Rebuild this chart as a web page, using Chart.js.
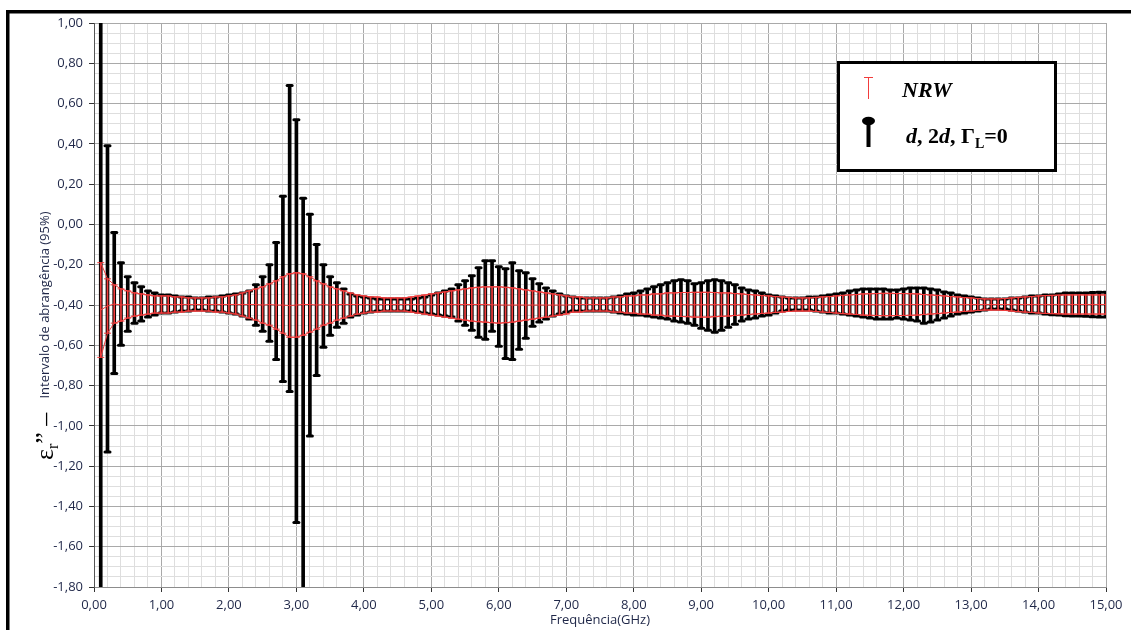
<!DOCTYPE html>
<html><head><meta charset="utf-8">
<script src="https://cdn.jsdelivr.net/npm/chart.js@4/dist/chart.umd.min.js"></script>
<style>html,body{margin:0;padding:0;background:#fff}#wrap{width:1131px;height:630px;position:relative}</style>
</head><body><div id="wrap"><canvas id="c" width="1131" height="630"></canvas></div>
<script>
// Frequencies (GHz)
const freqs = [
 0.1,0.2,0.3,0.4,0.5,0.6,0.7,0.8,0.9,1.0,
 1.1,1.2,1.3,1.4,1.5,1.6,1.7,1.8,1.9,2.0,
 2.1,2.2,2.3,2.4,2.5,2.6,2.7,2.8,2.9,3.0,
 3.1,3.2,3.3,3.4,3.5,3.6,3.7,3.8,3.9,4.0,
 4.1,4.2,4.3,4.4,4.5,4.6,4.7,4.8,4.9,5.0,
 5.1,5.2,5.3,5.4,5.5,5.6,5.7,5.8,5.9,6.0,
 6.1,6.2,6.3,6.4,6.5,6.6,6.7,6.8,6.9,7.0,
 7.1,7.2,7.3,7.4,7.5,7.6,7.7,7.8,7.9,8.0,
 8.1,8.2,8.3,8.4,8.5,8.6,8.7,8.8,8.9,9.0,
 9.1,9.2,9.3,9.4,9.5,9.6,9.7,9.8,9.9,10.0,
 10.1,10.2,10.3,10.4,10.5,10.6,10.7,10.8,10.9,11.0,
 11.1,11.2,11.3,11.4,11.5,11.6,11.7,11.8,11.9,12.0,
 12.1,12.2,12.3,12.4,12.5,12.6,12.7,12.8,12.9,13.0,
 13.1,13.2,13.3,13.4,13.5,13.6,13.7,13.8,13.9,14.0,
 14.1,14.2,14.3,14.4,14.5,14.6,14.7,14.8,14.9,15.0
];
// "d, 2d, ΓL=0" interval bounds
const blackHi = [
 1.70,0.39,-0.04,-0.19,-0.26,-0.29,-0.31,-0.33,-0.34,-0.35,
 -0.35,-0.355,-0.36,-0.36,-0.365,-0.365,-0.36,-0.36,-0.355,-0.35,
 -0.345,-0.34,-0.33,-0.30,-0.26,-0.20,-0.09,0.14,0.69,0.52,
 0.13,0.05,-0.10,-0.20,-0.26,-0.29,-0.32,-0.345,-0.355,-0.36,
 -0.365,-0.37,-0.37,-0.37,-0.37,-0.37,-0.37,-0.365,-0.36,-0.35,
 -0.34,-0.33,-0.32,-0.30,-0.28,-0.255,-0.215,-0.18,-0.18,-0.21,
 -0.22,-0.19,-0.23,-0.24,-0.27,-0.295,-0.315,-0.33,-0.345,-0.355,
 -0.36,-0.365,-0.365,-0.365,-0.365,-0.365,-0.36,-0.355,-0.345,-0.34,
 -0.33,-0.32,-0.31,-0.30,-0.29,-0.28,-0.275,-0.28,-0.295,-0.29,
 -0.28,-0.275,-0.28,-0.29,-0.30,-0.315,-0.325,-0.33,-0.34,-0.35,
 -0.355,-0.36,-0.365,-0.365,-0.365,-0.36,-0.36,-0.355,-0.35,-0.345,
 -0.34,-0.33,-0.325,-0.32,-0.32,-0.32,-0.32,-0.325,-0.325,-0.32,
 -0.315,-0.315,-0.315,-0.32,-0.325,-0.335,-0.34,-0.35,-0.355,-0.36,
 -0.365,-0.37,-0.37,-0.37,-0.37,-0.365,-0.365,-0.36,-0.355,-0.355,
 -0.35,-0.35,-0.345,-0.34,-0.34,-0.34,-0.34,-0.338,-0.337,-0.337
];
const blackLo = [
 -2.50,-1.13,-0.74,-0.60,-0.53,-0.49,-0.48,-0.46,-0.45,-0.44,
 -0.44,-0.435,-0.43,-0.43,-0.425,-0.425,-0.43,-0.43,-0.435,-0.44,
 -0.445,-0.455,-0.47,-0.50,-0.53,-0.58,-0.67,-0.78,-0.83,-1.48,
 -2.50,-1.05,-0.75,-0.61,-0.55,-0.51,-0.49,-0.46,-0.45,-0.44,
 -0.435,-0.43,-0.43,-0.43,-0.43,-0.43,-0.43,-0.435,-0.44,-0.445,
 -0.45,-0.455,-0.46,-0.48,-0.50,-0.525,-0.56,-0.57,-0.53,-0.605,
 -0.665,-0.67,-0.62,-0.565,-0.505,-0.485,-0.47,-0.455,-0.445,-0.435,
 -0.43,-0.43,-0.43,-0.43,-0.43,-0.43,-0.435,-0.44,-0.445,-0.45,
 -0.45,-0.455,-0.46,-0.465,-0.47,-0.48,-0.485,-0.49,-0.50,-0.515,
 -0.525,-0.535,-0.525,-0.51,-0.495,-0.48,-0.47,-0.465,-0.455,-0.45,
 -0.44,-0.43,-0.425,-0.425,-0.425,-0.425,-0.43,-0.435,-0.44,-0.44,
 -0.445,-0.45,-0.455,-0.46,-0.465,-0.47,-0.47,-0.47,-0.465,-0.47,
 -0.475,-0.48,-0.49,-0.485,-0.475,-0.465,-0.455,-0.445,-0.44,-0.435,
 -0.43,-0.425,-0.42,-0.42,-0.42,-0.425,-0.43,-0.435,-0.44,-0.44,
 -0.445,-0.448,-0.45,-0.453,-0.455,-0.455,-0.456,-0.458,-0.46,-0.46
];
// NRW interval bounds
const redHi = [
 -0.19,-0.27,-0.30,-0.32,-0.33,-0.34,-0.345,-0.35,-0.355,-0.355,
 -0.355,-0.36,-0.36,-0.365,-0.365,-0.365,-0.365,-0.36,-0.36,-0.355,
 -0.35,-0.34,-0.33,-0.32,-0.31,-0.295,-0.28,-0.26,-0.245,-0.24,
 -0.245,-0.26,-0.28,-0.295,-0.31,-0.32,-0.33,-0.34,-0.35,-0.355,
 -0.36,-0.36,-0.365,-0.365,-0.365,-0.365,-0.36,-0.355,-0.35,-0.345,
 -0.34,-0.335,-0.33,-0.325,-0.32,-0.315,-0.312,-0.31,-0.31,-0.31,
 -0.312,-0.315,-0.32,-0.325,-0.33,-0.335,-0.34,-0.345,-0.35,-0.355,
 -0.36,-0.36,-0.365,-0.365,-0.365,-0.365,-0.36,-0.36,-0.355,-0.355,
 -0.35,-0.35,-0.345,-0.345,-0.34,-0.34,-0.338,-0.338,-0.337,-0.337,
 -0.337,-0.338,-0.34,-0.34,-0.343,-0.345,-0.348,-0.35,-0.353,-0.355,
 -0.358,-0.36,-0.362,-0.365,-0.365,-0.365,-0.362,-0.36,-0.358,-0.355,
 -0.352,-0.35,-0.348,-0.345,-0.344,-0.343,-0.342,-0.342,-0.343,-0.343,
 -0.344,-0.345,-0.348,-0.35,-0.352,-0.355,-0.358,-0.36,-0.363,-0.365,
 -0.368,-0.37,-0.37,-0.37,-0.368,-0.365,-0.362,-0.36,-0.358,-0.355,
 -0.353,-0.352,-0.351,-0.35,-0.35,-0.35,-0.35,-0.35,-0.35,-0.35
];
const redLo = [
 -0.66,-0.54,-0.49,-0.48,-0.465,-0.455,-0.45,-0.445,-0.44,-0.44,
 -0.44,-0.435,-0.435,-0.43,-0.43,-0.43,-0.43,-0.435,-0.435,-0.44,
 -0.445,-0.455,-0.465,-0.475,-0.49,-0.50,-0.52,-0.54,-0.56,-0.56,
 -0.55,-0.535,-0.52,-0.50,-0.49,-0.475,-0.465,-0.455,-0.445,-0.44,
 -0.435,-0.435,-0.43,-0.43,-0.43,-0.43,-0.435,-0.44,-0.445,-0.45,
 -0.455,-0.46,-0.465,-0.47,-0.475,-0.48,-0.483,-0.485,-0.488,-0.49,
 -0.488,-0.485,-0.48,-0.475,-0.47,-0.465,-0.46,-0.455,-0.45,-0.445,
 -0.435,-0.435,-0.43,-0.43,-0.43,-0.43,-0.435,-0.435,-0.44,-0.44,
 -0.445,-0.445,-0.45,-0.45,-0.455,-0.455,-0.457,-0.458,-0.46,-0.46,
 -0.46,-0.458,-0.456,-0.455,-0.452,-0.45,-0.447,-0.445,-0.442,-0.44,
 -0.437,-0.435,-0.432,-0.43,-0.43,-0.43,-0.432,-0.435,-0.437,-0.44,
 -0.443,-0.445,-0.447,-0.45,-0.451,-0.452,-0.453,-0.453,-0.452,-0.452,
 -0.451,-0.45,-0.447,-0.445,-0.443,-0.44,-0.437,-0.435,-0.432,-0.43,
 -0.427,-0.425,-0.425,-0.425,-0.427,-0.43,-0.433,-0.435,-0.437,-0.44,
 -0.442,-0.443,-0.444,-0.445,-0.445,-0.445,-0.445,-0.445,-0.445,-0.445
];
const xTickMajor = 1, xTickMinor = 0.2;
const yTickMajor = 0.2, yTickMinor = 0.05;

const RED = '#f23c3c';
const TXT = '#1f2748';
const FONT = "'Open Sans', sans-serif";

const isMajor = (v, step) => Math.abs(v / step - Math.round(v / step)) < 1e-6;
const fmt = v => { let r = Math.round(v * 100) / 100; if (Math.abs(r) < 1e-9) r = 0; return r.toFixed(2).replace('.', ','); };

const blackData = freqs.map((f, i) => ({x: f, y: [blackLo[i], blackHi[i]]}));
const redData = freqs.map((f, i) => ({x: f, y: [redLo[i], redHi[i]]}));
const redHiLine = freqs.map((f, i) => ({x: f, y: redHi[i]}));
const redLoLine = freqs.map((f, i) => ({x: f, y: redLo[i]}));
const redMidLine = freqs.map((f, i) => ({x: f, y: (redHi[i] + redLo[i]) / 2}));

const capsPlugin = {
  id: 'caps',
  afterDatasetDraw(chart, args) {
    const ds = chart.data.datasets[args.index];
    if (!ds.capStyle) return;
    const a = chart.chartArea, c = chart.ctx;
    c.save();
    c.beginPath(); c.rect(a.left, a.top, a.right - a.left, a.bottom - a.top); c.clip();
    c.strokeStyle = ds.backgroundColor;
    c.lineWidth = ds.capStyle === 'black' ? 3 : 1;
    c.lineCap = ds.capStyle === 'black' ? 'round' : 'butt';
    const hw = ds.capStyle === 'black' ? 2.5 : 3.5;
    args.meta.data.forEach(el => {
      const p = el.getProps(['x', 'y', 'base'], true);
      [p.y, p.base].forEach(yy => {
        if (yy < a.top - 1 || yy > a.bottom + 1) return;
        c.beginPath(); c.moveTo(p.x - hw, yy); c.lineTo(p.x + hw, yy); c.stroke();
      });
    });
    c.restore();
  }
};

const decorPlugin = {
  id: 'decor',
  beforeDraw(chart) {
    const c = chart.ctx;
    c.save(); c.fillStyle = '#fff'; c.fillRect(0, 0, chart.width, chart.height); c.restore();
  },
  afterDraw(chart) {
    const c = chart.ctx;
    c.save();
    // outer frame
    c.fillStyle = '#000';
    c.fillRect(6, 10, 1125, 3.5);
    c.fillRect(6, 10, 3.5, 620);
    // y title
    c.save();
    c.translate(45, 305); c.rotate(-Math.PI / 2);
    c.fillStyle = TXT; c.font = "13px " + FONT; c.textAlign = 'center'; c.textBaseline = 'middle';
    c.fillText('Intervalo de abrangência (95%)', 0, 0);
    c.restore();
    // epsilon label
    c.save();
    c.translate(53, 460); c.rotate(-Math.PI / 2);
    c.fillStyle = '#000'; c.textBaseline = 'alphabetic'; c.textAlign = 'left';
    c.font = "26px 'Liberation Serif', serif";
    c.fillText('ε', 0, 0);
    let w = c.measureText('ε').width;
    c.font = "16px 'Liberation Serif', serif";
    c.fillText('r', w, 5);
    w += c.measureText('r').width;
    c.font = "26px 'Liberation Serif', serif";
    c.fillText('”', w, 0);
    w += c.measureText('” ').width;
    c.fillText('–', w, 0);
    c.restore();
    // legend
    c.fillStyle = '#fff';
    c.fillRect(838, 62, 218, 109);
    c.strokeStyle = '#000'; c.lineWidth = 3;
    c.strokeRect(838.5, 62.5, 217, 108);
    // NRW symbol
    c.strokeStyle = RED; c.lineWidth = 1;
    c.beginPath(); c.moveTo(868.5, 77); c.lineTo(868.5, 99); c.stroke();
    c.beginPath(); c.moveTo(864, 77.5); c.lineTo(873, 77.5); c.stroke();
    c.fillStyle = '#000';
    c.font = "italic bold 22px 'Liberation Serif', serif";
    c.fillText('NRW', 902, 97);
    // d,2d symbol
    c.beginPath(); c.ellipse(868.5, 121, 6.5, 4.2, 0, 0, Math.PI * 2); c.fill();
    c.fillRect(866.5, 121, 4, 26);
    let x = 906; const by = 143;
    const seg = (t, f, dy) => { c.font = f; c.fillText(t, x, by + (dy || 0)); x += c.measureText(t).width; };
    seg('d', "italic bold 22px 'Liberation Serif', serif");
    seg(', 2', "bold 22px 'Liberation Serif', serif");
    seg('d', "italic bold 22px 'Liberation Serif', serif");
    seg(', Γ', "bold 22px 'Liberation Serif', serif");
    seg('L', "bold 14px 'Liberation Serif', serif", 5);
    seg('=0', "bold 22px 'Liberation Serif', serif");
    c.restore();
  }
};

new Chart(document.getElementById('c'), {
  data: {
    datasets: [
      {type: 'line', label: 'NRW sup', data: redHiLine, borderColor: RED, borderWidth: 1, pointRadius: 0, tension: 0, order: 1},
      {type: 'line', label: 'NRW inf', data: redLoLine, borderColor: RED, borderWidth: 1, pointRadius: 0, tension: 0, order: 1},
      {type: 'line', label: 'NRW', data: redMidLine, borderColor: RED, borderWidth: 1, pointRadius: 0, tension: 0, order: 1},
      {type: 'bar', label: 'NRW', data: redData, backgroundColor: RED, barThickness: 1, grouped: false, clip: 0, borderWidth: 0, order: 2, capStyle: 'red'},
      {type: 'bar', label: 'd, 2d, ΓL=0', data: blackData, backgroundColor: '#000', barThickness: 3, grouped: false, clip: 0, borderWidth: 0, order: 3, capStyle: 'black'}
    ]
  },
  options: {
    responsive: false, animation: false, devicePixelRatio: 1,
    layout: {padding: {top: 23, right: 25, left: 0, bottom: 0}},
    plugins: {legend: {display: false}, tooltip: {enabled: false}},
    scales: {
      x: {
        type: 'linear', min: 0, max: 15, offset: false,
        afterFit: s => { s.height = 43; },
        ticks: {stepSize: xTickMinor, autoSkip: false, maxRotation: 0, minRotation: 0, maxTicksLimit: 1000, padding: 5,
          color: TXT, font: {family: FONT, size: 13},
          callback: v => isMajor(v, xTickMajor) ? fmt(v) : ''},
        grid: {offset: false, lineWidth: 1, tickLength: 5,
          color: c => (c.tick && isMajor(c.tick.value, xTickMajor)) ? '#a9a9a9' : '#dedede',
          tickColor: c => (c.tick && isMajor(c.tick.value, xTickMajor)) ? '#333' : 'rgba(0,0,0,0)'},
        border: {color: '#8c8c8c'},
        title: {display: true, text: 'Frequência(GHz)', color: TXT, font: {family: FONT, size: 13}, padding: {top: 0, bottom: 2}}
      },
      y: {
        type: 'linear', min: -1.8, max: 1.0,
        afterFit: s => { s.width = 94; },
        ticks: {stepSize: yTickMinor, autoSkip: false, maxTicksLimit: 1000, padding: 6,
          color: TXT, font: {family: FONT, size: 13},
          callback: v => isMajor(v, yTickMajor) ? fmt(v) : ''},
        grid: {lineWidth: 1, tickLength: 5,
          color: c => (c.tick && isMajor(c.tick.value, yTickMajor)) ? '#a9a9a9' : '#dedede',
          tickColor: c => (c.tick && isMajor(c.tick.value, yTickMajor)) ? '#333' : 'rgba(0,0,0,0)'},
        border: {color: '#555'}
      }
    }
  },
  plugins: [capsPlugin, decorPlugin]
});
</script></body></html>
